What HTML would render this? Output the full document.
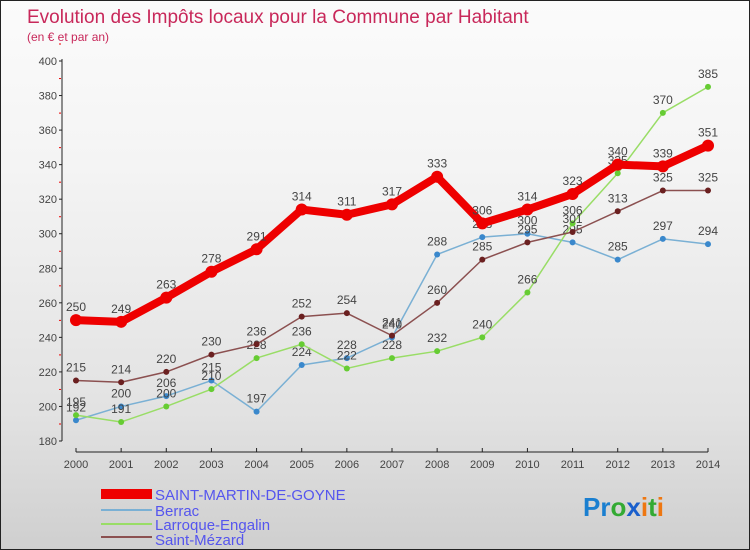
<!DOCTYPE html>
<html><head><meta charset="utf-8"><style>
body{margin:0}
#c{width:750px;height:550px;position:relative;overflow:hidden;box-sizing:border-box;border:1px solid #222;background:linear-gradient(#fbfbfb,#f4f4f4 30%,#e2e2e2 75%,#cfcfcf);font-family:"Liberation Sans",sans-serif}
</style></head><body>
<div id="c">
<svg id="s" width="750" height="550" style="position:absolute;left:0;top:0">
<text x="26" y="22" font-size="19" fill="#c8285a">Evolution des Impôts locaux pour la Commune par Habitant</text>
<text x="26" y="40" font-size="12" fill="#c8285a">(en € et par an)</text>
<g id="ax"></g><g id="ser"></g>
<g font-size="15" fill="#5555ee">
<rect x="100" y="488" width="51" height="10" fill="#e00"/>
<text x="154" y="499">SAINT-MARTIN-DE-GOYNE</text>
<rect x="100" y="508" width="51" height="2" fill="#7ab0d4"/>
<text x="154" y="515">Berrac</text>
<rect x="100" y="522" width="51" height="2" fill="#99dd66"/>
<text x="154" y="529">Larroque-Engalin</text>
<rect x="100" y="535" width="51" height="2" fill="#8b5050"/>
<text x="154" y="544">Saint-Mézard</text>
</g>
<text x="582" y="515" font-size="26" font-weight="bold"><tspan fill="#1a7fd0">Pr</tspan><tspan fill="#33aa33">o</tspan><tspan fill="#1a5fcc">x</tspan><tspan fill="#ee7711">i</tspan><tspan fill="#33aa33">t</tspan><tspan fill="#ee7711">i</tspan></text>
</svg>
</div>
<script>
const years=[2000,2001,2002,2003,2004,2005,2006,2007,2008,2009,2010,2011,2012,2013,2014];
const saintMartin=[250,249,263,278,291,314,311,317,333,306,314,323,340,339,351];
const berrac=[192,200,206,215,197,224,228,240,288,298,300,295,285,297,294];
const larroque=[195,191,200,210,228,236,222,228,232,240,266,306,335,370,385];
const saintMezard=[215,214,220,230,236,252,254,241,260,285,295,301,313,325,325];
const yTicks=[180,200,220,240,260,280,300,320,340,360,380,400];
const NS="http://www.w3.org/2000/svg";
const X=i=>75+i*(707-75)/(years.length-1);
const Y=v=>440-(v-180)*(380/220);
function mk(p,t,a){const e=document.createElementNS(NS,t);for(const k in a)e.setAttribute(k,a[k]);p.appendChild(e);return e;}
const ax=document.getElementById('ax'),ser=document.getElementById('ser');
const yl=mk(ax,'line',{x1:61,y1:58,x2:61,y2:440,stroke:'#222'});


yTicks.forEach(v=>{
 mk(ax,'line',{x1:58,y1:Y(v),x2:61,y2:Y(v),stroke:'#222'});
 mk(ax,'line',{x1:58,y1:Y(v)-17,x2:60,y2:Y(v)-17,stroke:'#e00'});
 const t=mk(ax,'text',{x:56,y:Y(v)+4,'font-size':11,fill:'#444','text-anchor':'end'});t.textContent=v;
 
 
});
const xl=mk(ax,'line',{x1:75,y1:451,x2:707,y2:451,stroke:'#222'});


years.forEach((y,i)=>{
 mk(ax,'line',{x1:X(i),y1:447,x2:X(i),y2:451,stroke:'#222'});
 const t=mk(ax,'text',{x:X(i),y:467,'font-size':11,fill:'#444','text-anchor':'middle'});t.textContent=y;
 
 
});
function series(d,col,w,dot,dotc,name){
 const g=mk(ser,'g',{});
 
 
 mk(g,'polyline',{points:d.map((v,i)=>X(i)+','+Y(v)).join(' '),fill:'none',stroke:col,'stroke-width':w,'stroke-linejoin':'round'});
 d.forEach((v,i)=>{
  const c=mk(g,'circle',{cx:X(i),cy:Y(v),r:dot,fill:dotc});
  
  
  const t=mk(g,'text',{x:X(i),y:Y(v)-9,'font-size':12,fill:'#444','text-anchor':'middle'});t.textContent=v;
  
  
 });
}
series(berrac,'#7ab0d4',1.5,3,'#3a88cc','series-berrac');
series(larroque,'#99dd66',1.5,3,'#66cc33','series-larroque-engalin');
series(saintMezard,'#8b5050',1.5,3,'#6b2020','series-saint-mezard');
series(saintMartin,'#e00',8,6,'#e00','series-saint-martin');
</script>
</body></html>
